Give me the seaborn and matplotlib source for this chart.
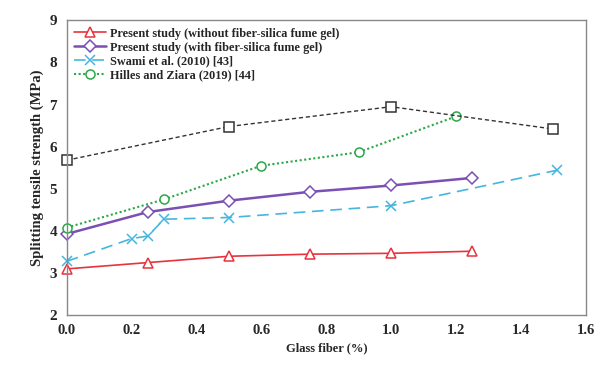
import matplotlib
matplotlib.use("Agg")
import matplotlib.pyplot as plt
import seaborn as sns
import pandas as pd

# Data
x_present = [0.0, 0.25, 0.5, 0.75, 1.0, 1.25]
y_without = [3.10, 3.25, 3.40, 3.45, 3.47, 3.52]
y_with = [3.93, 4.45, 4.72, 4.93, 5.08, 5.26]

x_swami = [0.0, 0.2, 0.25, 0.3, 0.5, 1.0, 1.51]
y_swami = [3.28, 3.82, 3.88, 4.28, 4.32, 4.60, 5.44]

x_hilles = [0.0, 0.3, 0.6, 0.9, 1.2]
y_hilles = [4.08, 4.75, 5.55, 5.87, 6.72]

x_other = [0.0, 0.5, 1.0, 1.5]
y_other = [5.68, 6.48, 6.95, 6.42]

labels = [
    "Present study (without fiber-silica fume gel)",
    "Present study (with fiber-silica fume gel)",
    "Swami et al. (2010) [43]",
    "Hilles and Ziara (2019) [44]",
]

sns.set_style("white")
plt.rcParams["font.family"] = ["Liberation Serif", "DejaVu Serif"]
plt.rcParams["font.weight"] = "bold"

fig, ax = plt.subplots(figsize=(6.07, 3.70), dpi=100)
fig.subplots_adjust(left=0.11, right=0.965, top=0.945, bottom=0.148)

series = [
    (x_present, y_without, labels[0], "#e8323c", "^", (None, None), 1.2),
    (x_present, y_with, labels[1], "#7b4fb3", "D", (None, None), 1.8),
    (x_swami, y_swami, labels[2], "#45b6e0", "x", (7, 4), 1.2),
    (x_hilles, y_hilles, labels[3], "#2aa84a", "o", (1, 1.2), 1.5),
    (x_other, y_other, "_nolegend_", "#333333", "s", (3, 2), 1.0),
]

for xs, ys, lab, col, mk, dash, lw in series:
    df = pd.DataFrame({"x": xs, "y": ys})
    sns.lineplot(data=df, x="x", y="y", ax=ax, color=col, marker=mk,
                 markersize=6.5 if mk != "D" else 6,
                 markerfacecolor="white" if mk != "x" else col,
                 markeredgecolor=col, markeredgewidth=1.1,
                 linewidth=lw, label=lab, legend=False, clip_on=False)
    ln = ax.get_lines()[-1]
    if dash[0] is not None:
        ln.set_dashes(dash)

ax.set_xlim(0, 1.6)
ax.set_ylim(2, 9)
ax.set_xticks([0.0, 0.2, 0.4, 0.6, 0.8, 1.0, 1.2, 1.4, 1.6])
ax.set_xticklabels([f"{v:.1f}" for v in ax.get_xticks()])
ax.set_yticks(range(2, 10))
ax.tick_params(axis="x", direction="in", length=3, labelsize=10.5, color="#999999", pad=6)
ax.tick_params(axis="y", direction="out", length=4, labelsize=11, color="#999999", pad=3)
for lbl in ax.get_xticklabels() + ax.get_yticklabels():
    lbl.set_fontweight("bold")
for sp in ax.spines.values():
    sp.set_color("#888888")
    sp.set_linewidth(1.0)

ax.set_xlabel("Glass fiber (%)", fontsize=9, fontweight="bold", labelpad=4)
ax.set_ylabel("Splitting tensile strength (MPa)", fontsize=10.5, fontweight="bold", labelpad=4)

handles = ax.get_lines()[:4]
ax.legend(handles=handles, labels=labels, loc="upper left", frameon=False,
          handlelength=2.6, handletextpad=0.3, labelspacing=0.15,
          borderaxespad=0.2, prop={"weight": "bold", "size": 8.8})

fig.savefig("out.png", dpi=100)
